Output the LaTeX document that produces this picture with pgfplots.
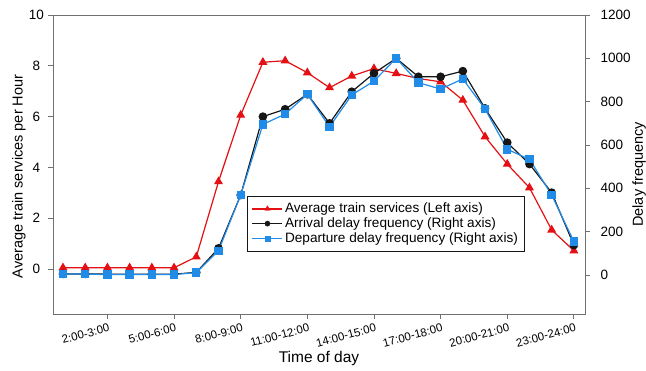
\documentclass[border=0pt]{standalone}
\usepackage{pgfplots}
\pgfplotsset{compat=1.18}
\usepackage{fontspec}
\setmainfont{Liberation Sans}
\definecolor{cred}{RGB}{228,16,20}
\definecolor{cblue}{RGB}{32,140,232}
\definecolor{cblack}{RGB}{22,22,22}
\definecolor{axgray}{RGB}{112,112,112}
\pgfplotsset{
  common/.style={
    width=532pt, height=299pt, scale only axis,
    xmin=-0.45, xmax=23.5,
    axis line style={axgray, line width=0.9pt},
    tick style={axgray, line width=0.9pt},
    major tick length=5pt, tick align=outside,
    /pgf/number format/assume math mode=true,
    /pgf/number format/1000 sep={},
    clip=false,
  },
}
\begin{document}
\begin{tikzpicture}
\begin{axis}[common, name=ax,
  ymin=-1.77, ymax=10,
  ytick={0,2,4,6,8,10},
  xtick={2,5,8,11,14,17,20,23},
  xticklabels={2:00-3:00,5:00-6:00,8:00-9:00,11:00-12:00,14:00-15:00,17:00-18:00,20:00-21:00,23:00-24:00},
  xtick pos=bottom, ytick pos=left,
  xticklabel style={font=\fontsize{11.5}{13}\selectfont, rotate=15, anchor=north east, xshift=3pt, yshift=-1pt},
  yticklabel style={font=\fontsize{13.5}{15}\selectfont},
  yticklabel={\makebox[16pt][c]{\pgfmathprintnumber{\tick}}},
  xlabel={Time of day},
  xlabel style={font=\fontsize{15.5}{18}\selectfont, at={(axis description cs:0.5,-0.148)}, anchor=center},
  ylabel={Average train services per Hour},
  ylabel style={font=\fontsize{14.5}{17}\selectfont, at={(axis description cs:-0.064,0.46)}, anchor=center},
]
\addplot[cred, line width=1.2pt, mark=triangle*, mark size=4pt] coordinates {
(0,0.05) (1,0.05) (2,0.05) (3,0.05) (4,0.05) (5,0.05) (6,0.48) (7,3.44) (8,6.06) (9,8.14) (10,8.2) (11,7.73)
(12,7.14) (13,7.6) (14,7.89) (15,7.7) (16,7.5) (17,7.37) (18,6.65) (19,5.21) (20,4.13) (21,3.2) (22,1.54) (23,0.72)
};
\end{axis}
\begin{axis}[common,
  ymin=-180, ymax=1200,
  ytick={0,200,400,600,800,1000,1200},
  xtick=\empty, ytick pos=right,
  yticklabel style={font=\fontsize{13.5}{15}\selectfont, xshift=7pt},
  ylabel={Delay frequency},
  ylabel style={font=\fontsize{14.5}{17}\selectfont, at={(axis description cs:1.1015,0.467)}, anchor=center, rotate=0},
  legend style={at={(0.365,0.395)}, anchor=north west, draw=cblack,
    font=\fontsize{13.6}{16}\selectfont, inner xsep=4.5pt, inner ysep=5pt, row sep=-0.5pt},
  legend cell align=left,
  legend image code/.code={\draw[line width=1.2pt] (0pt,0pt) -- (30pt,0pt); \draw[mark repeat=2,mark phase=2] plot coordinates {(0pt,0pt) (15pt,0pt) (30pt,0pt)};},
]
\addlegendimage{cred, mark=triangle*, mark size=3pt}
\addlegendentry{Average train services (Left axis)}
\addlegendimage{cblack, mark=*, mark size=2.6pt}
\addlegendentry{Arrival delay frequency (Right axis)}
\addlegendimage{cblue, mark=square*, mark size=2.5pt}
\addlegendentry{Departure delay frequency (Right axis)}
\addplot[forget plot, cblack, line width=1.2pt, mark=*, mark size=3.7pt] coordinates {
(0,5) (1,5) (2,4) (3,4) (4,4) (5,4) (6,12) (7,123) (8,369) (9,731) (10,765) (11,834)
(12,700) (13,846) (14,931) (15,1000) (16,915) (17,915) (18,941) (19,769) (20,611) (21,512) (22,380) (23,138)
};
\addplot[forget plot, cblue, line width=1.2pt, mark=square*, mark size=3.6pt] coordinates {
(0,5) (1,4) (2,2) (3,2) (4,2) (5,2) (6,11) (7,112) (8,369) (9,695) (10,743) (11,834)
(12,684) (13,831) (14,895) (15,1000) (16,888) (17,858) (18,905) (19,766) (20,580) (21,534) (22,369) (23,154)
};
\end{axis}
\pgfresetboundingbox
\path ([shift={(-53pt,-57pt)}]ax.south west) rectangle ([shift={(61pt,15pt)}]ax.north east);
\end{tikzpicture}
\end{document}
